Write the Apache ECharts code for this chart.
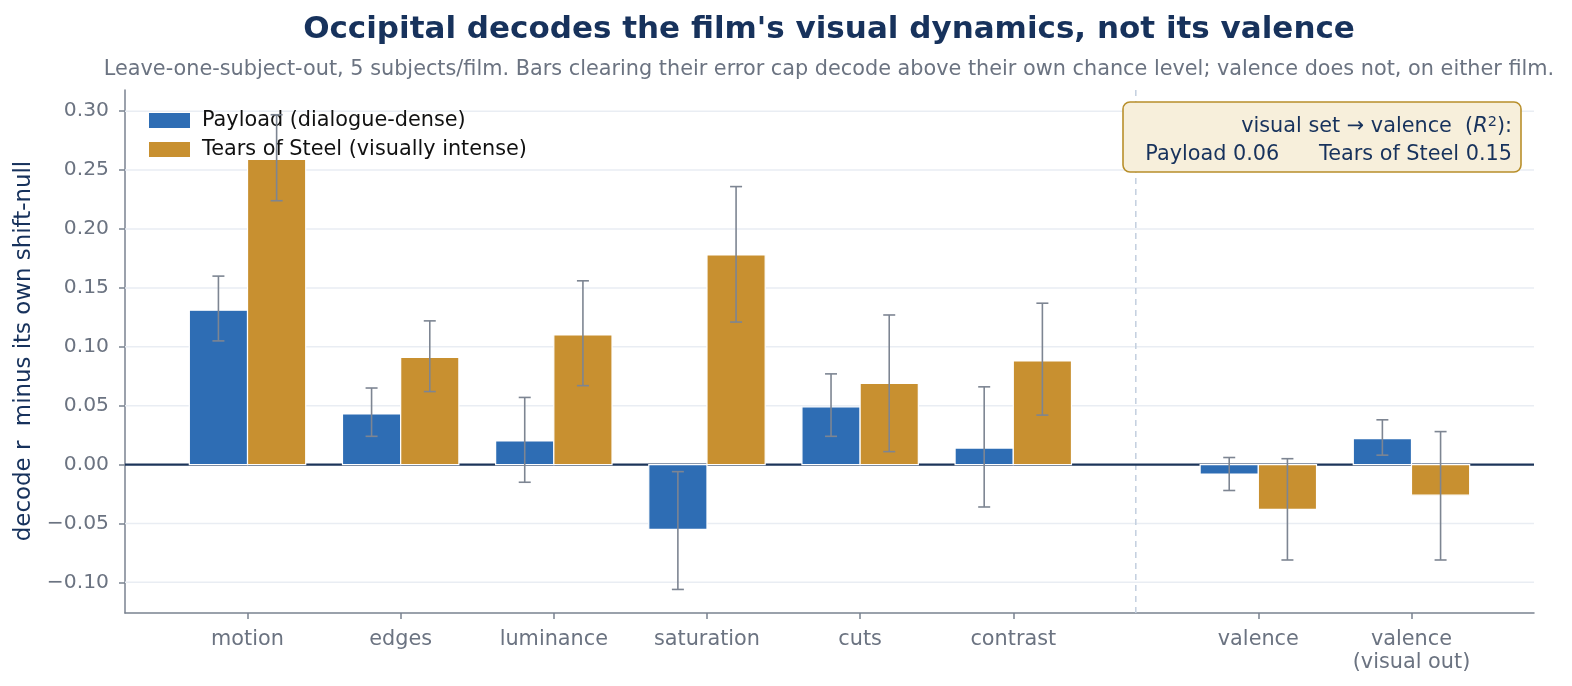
<!DOCTYPE html>
<html>
<head>
<meta charset="utf-8">
<script src="https://cdn.jsdelivr.net/npm/echarts@6/dist/echarts.min.js"></script>
<style>
  html, body { margin: 0; padding: 0; background: #fff; }
  #chart { width: 1572px; height: 686px; }
</style>
</head>
<body>
<div id="chart"></div>
<script>
// feature names and where they sit on the x axis (gap before the valence pair)
const features = ['motion', 'edges', 'luminance', 'saturation', 'cuts', 'contrast', 'valence', 'valence\n(visual out)'];
const xPos = [0, 1, 2, 3, 4, 5, 6.6, 7.6];

// Payload (dialogue-dense)
const payload   = [0.131, 0.043, 0.020, -0.055, 0.049, 0.014, -0.008, 0.022];
const payloadLo = [0.105, 0.024, -0.015, -0.106, 0.024, -0.036, -0.022, 0.008];
const payloadHi = [0.160, 0.065, 0.057, -0.006, 0.077, 0.066, 0.006, 0.038];

// Tears of Steel (visually intense)
const tears   = [0.259, 0.091, 0.110, 0.178, 0.069, 0.088, -0.038, -0.026];
const tearsLo = [0.224, 0.062, 0.067, 0.121, 0.011, 0.042, -0.081, -0.081];
const tearsHi = [0.297, 0.122, 0.156, 0.236, 0.127, 0.137, 0.005, 0.028];

const yTicks = [-0.10, -0.05, 0.00, 0.05, 0.10, 0.15, 0.20, 0.25, 0.30];
const splitX = 5.8;

const BLUE = '#2e6db4';
const GOLD = '#c89030';
const NAVY = '#17325c';
const GREY = '#6b7381';
const AXIS = '#7a8290';
const FONT = 'DejaVu Sans';
const BAR_W = 0.38;

const chart = echarts.init(document.getElementById('chart'), null, { renderer: 'canvas' });

const barRender = (off, color) => (params, api) => {
    const x = api.value(0);
    const v = api.value(1);
    const p0 = api.coord([x + off - BAR_W / 2, 0]);
    const p1 = api.coord([x + off + BAR_W / 2, v]);
    return {
        type: 'rect',
        shape: {
            x: p0[0], y: Math.min(p0[1], p1[1]),
            width: p1[0] - p0[0], height: Math.abs(p1[1] - p0[1])
        },
        style: { fill: color, stroke: '#ffffff', lineWidth: 1.2 }
    };
};

const errRender = (off) => (params, api) => {
    const x = api.value(0) + off;
    const lo = api.coord([x, api.value(2)]);
    const hi = api.coord([x, api.value(3)]);
    const cap = 6;
    const st = { stroke: '#7d8592', lineWidth: 1.6 };
    return {
        type: 'group',
        children: [
            { type: 'line', shape: { x1: lo[0], y1: lo[1], x2: hi[0], y2: hi[1] }, style: st },
            { type: 'line', shape: { x1: lo[0] - cap, y1: lo[1], x2: lo[0] + cap, y2: lo[1] }, style: st },
            { type: 'line', shape: { x1: hi[0] - cap, y1: hi[1], x2: hi[0] + cap, y2: hi[1] }, style: st }
        ]
    };
};

// horizontal guide across the whole plot at value y
const hLine = (color, width) => (params, api) => {
    const cs = params.coordSys;
    const y = api.coord([0, api.value(1)])[1];
    return {
        type: 'line',
        shape: { x1: cs.x, y1: y, x2: cs.x + cs.width, y2: y },
        style: { stroke: color, lineWidth: width }
    };
};

const vLine = (params, api) => {
    const cs = params.coordSys;
    const x = api.coord([api.value(0), 0])[0];
    return {
        type: 'line',
        shape: { x1: x, y1: cs.y, x2: x, y2: cs.y + cs.height },
        style: { stroke: '#c3cfdf', lineWidth: 1.5, lineDash: [6, 5] }
    };
};

const payloadData = xPos.map((x, i) => [x, payload[i], payloadLo[i], payloadHi[i]]);
const tearsData = xPos.map((x, i) => [x, tears[i], tearsLo[i], tearsHi[i]]);

const option = {
    animation: false,
    textStyle: { fontFamily: FONT },
    grid: { left: 125, right: 38, top: 90, bottom: 73 },
    xAxis: {
        type: 'value',
        min: -0.8,
        max: 8.4,
        splitLine: { show: false },
        axisLine: { onZero: false, lineStyle: { color: AXIS, width: 1.5 } },
        axisTick: { customValues: xPos, length: 6, lineStyle: { color: AXIS, width: 1.5 } },
        axisLabel: {
            customValues: xPos,
            color: GREY,
            fontSize: 20.8,
            fontFamily: FONT,
            lineHeight: 23,
            margin: 15,
            formatter: v => {
                const i = xPos.findIndex(p => Math.abs(p - v) < 1e-6);
                return i >= 0 ? features[i] : '';
            }
        }
    },
    yAxis: {
        type: 'value',
        min: -0.126,
        max: 0.318,
        splitLine: { show: false },
        axisLine: { show: true, onZero: false, lineStyle: { color: AXIS, width: 1.5 } },
        axisTick: { show: true, customValues: yTicks, length: 6, lineStyle: { color: AXIS, width: 1.5 } },
        axisLabel: {
            customValues: yTicks,
            color: GREY,
            fontSize: 20.3,
            fontFamily: FONT,
            margin: 16,
            formatter: v => (v < 0 ? '\u2212' + Math.abs(v).toFixed(2) : v.toFixed(2))
        }
    },
    legend: {
        orient: 'vertical',
        left: 144,
        top: 105,
        itemWidth: 41,
        itemHeight: 15,
        itemGap: 8,
        icon: 'rect',
        data: ['Payload (dialogue-dense)', 'Tears of Steel (visually intense)'],
        textStyle: { color: '#111', fontSize: 20.8, fontFamily: FONT, padding: [0, 0, 0, 7] }
    },
    series: [
        {
            name: 'grid',
            type: 'custom',
            silent: true,
            z: 1,
            renderItem: hLine('#e9edf3', 1.5),
            encode: { x: 0, y: 1 },
            data: yTicks.filter(t => t !== 0).map(t => [0, t])
        },
        {
            name: 'split',
            type: 'custom',
            silent: true,
            z: 1,
            renderItem: vLine,
            encode: { x: 0, y: 1 },
            data: [[splitX, 0]]
        },
        {
            name: 'zero',
            type: 'custom',
            silent: true,
            z: 2,
            renderItem: hLine('#1c355a', 2.2),
            encode: { x: 0, y: 1 },
            data: [[0, 0]]
        },
        {
            name: 'Payload (dialogue-dense)',
            type: 'custom',
            z: 3,
            color: BLUE,
            itemStyle: { color: BLUE },
            renderItem: barRender(-BAR_W / 2, BLUE),
            encode: { x: 0, y: 1 },
            data: payloadData
        },
        {
            name: 'Tears of Steel (visually intense)',
            type: 'custom',
            z: 3,
            color: GOLD,
            itemStyle: { color: GOLD },
            renderItem: barRender(BAR_W / 2, GOLD),
            encode: { x: 0, y: 1 },
            data: tearsData
        },
        {
            name: 'err-payload',
            type: 'custom',
            z: 4,
            renderItem: errRender(-BAR_W / 2),
            encode: { x: 0, y: [2, 3] },
            data: payloadData
        },
        {
            name: 'err-tears',
            type: 'custom',
            z: 4,
            renderItem: errRender(BAR_W / 2),
            encode: { x: 0, y: [2, 3] },
            data: tearsData
        }
    ],
    graphic: [
        {
            type: 'text',
            x: 829,
            y: 14,
            style: {
                text: "Occipital decodes the film's visual dynamics, not its valence",
                fill: NAVY,
                font: 'bold 31px "DejaVu Sans"',
                textAlign: 'center'
            }
        },
        {
            type: 'text',
            x: 829,
            y: 59,
            style: {
                text: 'Leave-one-subject-out, 5 subjects/film. Bars clearing their error cap decode above their own chance level; valence does not, on either film.',
                fill: GREY,
                font: '20.8px "DejaVu Sans"',
                textAlign: 'center'
            }
        },
        {
            type: 'text',
            x: 24,
            y: 351,
            rotation: Math.PI / 2,
            style: {
                text: 'decode r  minus its own shift-null',
                fill: NAVY,
                font: '22.9px "DejaVu Sans"',
                textAlign: 'center',
                textVerticalAlign: 'middle'
            }
        },
        {
            type: 'rect',
            shape: { x: 1123, y: 102, width: 398, height: 70, r: 7 },
            style: { fill: '#f7efdb', stroke: '#b88f2b', lineWidth: 1.6 },
            z: 10
        },
        {
            type: 'text',
            x: 1512,
            y: 115,
            z: 11,
            style: {
                text: 'visual set \u2192 valence  ({i|R}{s|2}):',
                fill: NAVY,
                font: '20.8px "DejaVu Sans"',
                textAlign: 'right',
                rich: {
                    i: { fontStyle: 'italic', fontSize: 20.8, fill: NAVY, fontFamily: FONT },
                    s: { fontSize: 14.5, fill: NAVY, fontFamily: FONT, verticalAlign: 'top', padding: [0, 0, 9, 0] }
                }
            }
        },
        {
            type: 'text',
            x: 1512,
            y: 144,
            z: 11,
            style: {
                text: 'Payload 0.06      Tears of Steel 0.15',
                fill: NAVY,
                font: '20.8px "DejaVu Sans"',
                textAlign: 'right'
            }
        }
    ]
};

chart.setOption(option);
</script>
</body>
</html>
